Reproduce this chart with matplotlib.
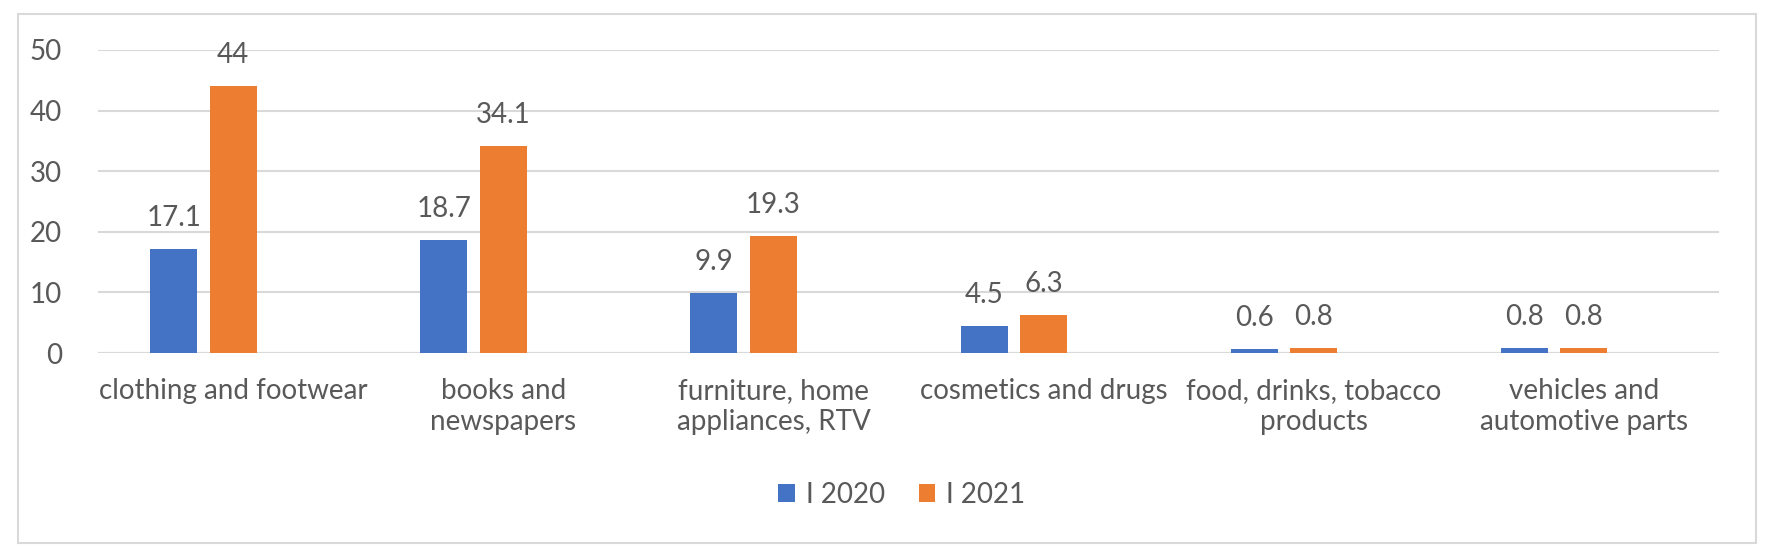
import matplotlib
matplotlib.use("Agg")
import matplotlib.pyplot as plt
from matplotlib.patches import Rectangle
import numpy as np

categories = ["clothing and footwear", "books and\nnewspapers", "furniture, home\nappliances, RTV",
              "cosmetics and drugs", "food, drinks, tobacco\nproducts", "vehicles and\nautomotive parts"]
series_names = ["I 2020", "I 2021"]
v2020 = [17.1, 18.7, 9.9, 4.5, 0.6, 0.8]
v2021 = [44, 34.1, 19.3, 6.3, 0.8, 0.8]
labels2020 = ["17.1", "18.7", "9.9", "4.5", "0.6", "0.8"]
labels2021 = ["44", "34.1", "19.3", "6.3", "0.8", "0.8"]
yticks = [0, 10, 20, 30, 40, 50]

blue = "#4472C4"
orange = "#ED7D31"
txt = "#595959"
grid = "#D9D9D9"

plt.rcParams['font.family'] = ['Lato', 'DejaVu Sans']

W, H = 1768, 554
FS = 20
fig = plt.figure(figsize=(W/100, H/100), dpi=100)
fig.patches.append(Rectangle((18/W, 1-543/H), (1756-18)/W, (543-14)/H, transform=fig.transFigure,
                             fill=False, edgecolor=grid, linewidth=1.5))
ax = fig.add_axes([98/W, 1-353/H, (1719-98)/W, (353-50)/H])
x = np.arange(len(categories))
bw = 0.174
off = 0.22
b1 = ax.bar(x - off, v2020, width=bw, color=blue, label=series_names[0], zorder=3)
b2 = ax.bar(x, v2021, width=bw, color=orange, label=series_names[1], zorder=3)
for xi, v, l in zip(x - off, v2020, labels2020):
    ax.annotate(l, (xi, v), xytext=(0, 23), textcoords="offset pixels", ha="center", va="baseline",
                fontsize=FS, color=txt)
for xi, v, l in zip(x, v2021, labels2021):
    ax.annotate(l, (xi, v), xytext=(0, 23), textcoords="offset pixels", ha="center", va="baseline",
                fontsize=FS, color=txt)
ax.set_xlim(-0.5, len(categories) - 0.5)
ax.set_ylim(0, 50)
ax.set_yticks(yticks)
ax.yaxis.grid(True, color=grid, linewidth=1.5, zorder=0)
ax.set_axisbelow(True)
for s in ax.spines.values():
    s.set_visible(False)
ax.tick_params(axis='both', length=0, labelsize=FS, labelcolor=txt)
ax.tick_params(axis='y', pad=26)
ax.tick_params(axis='x', pad=18)
ax.set_xticks(x)
ax.set_xticklabels(categories, linespacing=1.25)
ax.axhline(0, color=grid, linewidth=1.5, zorder=2)
leg = fig.legend(handles=[b1, b2], labels=series_names, loc="center", bbox_to_anchor=(902/W, 1-495/H),
                 ncol=2, frameon=False, fontsize=FS, handlelength=0.6, handleheight=0.6,
                 handletextpad=0.4, columnspacing=1.2)
for t in leg.get_texts():
    t.set_color(txt)
fig.savefig("out.png", dpi=100)
